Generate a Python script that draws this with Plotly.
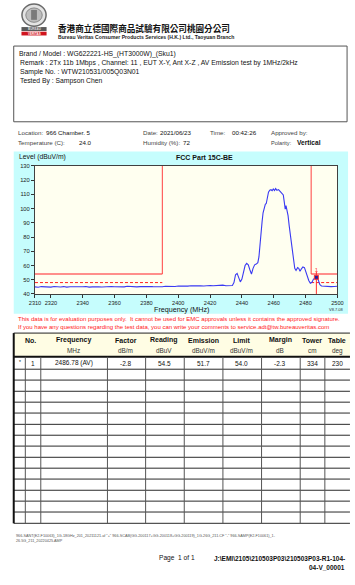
import plotly.graph_objects as go

W, H = 355, 585
FONT = "Liberation Sans, Arial, sans-serif"
CJK = "Noto Sans CJK TC, Noto Sans CJK SC, sans-serif"

# ---------------- header / test info ----------------
company_zh = "香港商立德國際商品試驗有限公司桃園分公司"
company_en = "Bureau Veritas Consumer Products Services (H.K.) Ltd., Taoyuan Branch"
info_lines = [
    "Brand / Model : WG622221-HS_(HT3000W)_(Sku1)",
    "Remark : 2Tx 11b 1Mbps , Channel: 11 , EUT X-Y, Ant X-Z , AV Emission test by 1MHz/2kHz",
    "Sample No. : WTW210531/005Q03N01",
    "Tested By : Sampson Chen",
]
location = "966 Chamber. 5"
test_date = "2021/06/23"
test_time = "00:42:26"
temperature = "24.0"
humidity = "72"
polarity = "Vertical"

# ---------------- spectrum sweep (MHz, dBuV/m) ----------------
spec_freq = [
    2310, 2312, 2314, 2316, 2318, 2320, 2322, 2324, 2326, 2328,
    2330, 2332, 2334, 2336, 2338, 2340, 2342, 2344, 2346, 2348,
    2350, 2352, 2354, 2356, 2358, 2360, 2362, 2364, 2366, 2368,
    2370, 2372, 2374, 2376, 2378, 2380, 2382, 2384, 2386, 2388,
    2390, 2392, 2394, 2396, 2398, 2400, 2402, 2404, 2406, 2408,
    2410, 2412, 2414, 2416, 2418, 2420, 2422, 2424, 2426, 2428,
    2430, 2432,
    2434, 2435, 2436, 2437, 2438, 2439, 2440, 2441, 2442, 2443,
    2444, 2445, 2446, 2447, 2448, 2449, 2450, 2450.7, 2451.3, 2452,
    2452.7, 2453.3, 2454, 2454.7, 2455.3, 2456, 2456.7, 2457.5, 2458.3, 2459,
    2459.7, 2460.5, 2461.2, 2462, 2463, 2464, 2465, 2466, 2466.7, 2467.2,
    2467.7, 2468.3, 2469, 2469.7, 2470.5, 2471.3, 2472, 2472.6, 2473.2, 2474,
    2475, 2475.7, 2476.5, 2477.3, 2478.3, 2479.3, 2480, 2481, 2482, 2483,
    2484, 2485, 2486, 2486.78, 2487.5, 2488.2, 2489, 2490, 2492, 2494,
    2496, 2498, 2500,
]
spec_level = [
    45.0, 44.7, 45.2, 44.9, 45.1, 44.8, 45.3, 45.0, 44.9, 45.2,
    44.8, 45.1, 45.0, 45.3, 44.9, 45.1, 45.2, 44.8, 45.0, 45.3,
    45.1, 44.9, 45.2, 45.0, 45.3, 45.1, 44.9, 45.2, 45.0, 45.4,
    45.1, 45.3, 45.0, 45.2, 45.4, 45.1, 45.3, 45.2, 45.0, 45.3,
    45.1, 45.4, 45.2, 45.5, 45.3, 45.6, 45.4, 45.7, 45.5, 45.8,
    45.6, 45.9, 45.7, 45.6, 45.9, 46.0, 45.8, 46.1, 45.9, 46.2,
    45.8, 46.0,
    46.0, 48.0, 53.5, 54.5, 52.0, 48.5, 50.5, 56.0, 60.0, 61.5,
    60.5, 57.0, 54.0, 58.0, 60.5, 61.0, 62.0, 66.0, 75.0, 84.0,
    91.0, 97.0, 101.0, 103.0, 103.5, 108.0, 111.5, 112.8, 113.2, 112.5,
    113.8, 112.6, 114.0, 112.8, 113.3, 112.0, 111.0, 109.5, 104.0, 99.5,
    102.0, 99.0, 95.0, 88.0, 81.0, 75.0, 70.0, 62.0, 58.0, 56.5,
    58.5, 58.0, 56.0, 57.5, 59.0, 58.5, 56.0, 52.0, 49.5, 47.5,
    48.2, 50.5, 51.2, 51.7, 51.3, 49.0, 46.5, 45.6, 45.3, 45.4,
    45.2, 45.3, 45.4,
]

# ---------------- limits ----------------
band_low_edge = 2390.0
band_high_edge = 2483.5
freq_start, freq_stop = 2310, 2500
av_limit = 54.0
limit_margin = 6.0
level_min, level_max = 40, 130

x_ticks = [2310, 2320, 2340, 2360, 2380, 2400, 2420, 2440, 2460, 2480, 2500]
y_ticks = [40, 50, 60, 70, 80, 90, 100, 110, 120, 130]

# ---------------- result table ----------------
col_titles = ["No.", "Frequency", "Factor", "Reading", "Emission", "Limit", "Margin", "Tower", "Table"]
col_units = ["", "MHz", "dB/m", "dBuV", "dBuV/m", "dBuV/m", "dB", "cm", "deg"]
row_no = ["1"]
row_freq = [2486.78]
row_det = ["AV"]
row_factor = [-2.8]
row_reading = [54.5]
row_emission = [51.7]
row_limit = [54.0]
row_margin = [-2.3]
row_tower = [334]
row_table = [230]

disclaimer = [
    "This data is for evaluation purposes only.  It cannot be used for EMC approvals unless it contains the approved signature.",
    "If you have any questions regarding the test data, you can write your comments to service.adt@tw.bureauveritas.com",
]
footer_files = [
    '966-SANT(E2-F10063)_1G-18GHz_201_20211121.af "+" 966-SCAB(GG-200117+GG-200118+GG-200119)_1G-26G_211.CF "-" 966-SAMP(E2-F10061)_1-',
    "26.5G_211_20220425.AMP",
]
page_text = "Page  1 of 1"
file_path = ["J:\\EMI\\2105\\210503P03\\210503P03-R1-104-", "04-V_00001"]

# plot-area placement on the page (pixels)
PLOT_L, PLOT_R, PLOT_T, PLOT_B = 30, 343, 164.5, 294


def X(px):
    return px / W


def Y(py):
    return 1 - py / H


shapes = []
annotations = []


def rect(x0, y0, x1, y1, fill=None, line=None, lw=1, layer="below"):
    shapes.append(dict(type="rect", xref="paper", yref="paper",
                       x0=X(x0), x1=X(x1), y0=Y(y0), y1=Y(y1),
                       fillcolor=fill if fill else "rgba(0,0,0,0)",
                       line=dict(color=line if line else "rgba(0,0,0,0)", width=lw if line else 0),
                       layer=layer))


def hline(x0, x1, y, color="#333", lw=1):
    shapes.append(dict(type="line", xref="paper", yref="paper",
                       x0=X(x0), x1=X(x1), y0=Y(y), y1=Y(y),
                       line=dict(color=color, width=lw), layer="above"))


def vline(x, y0, y1, color="#333", lw=1):
    shapes.append(dict(type="line", xref="paper", yref="paper",
                       x0=X(x), x1=X(x), y0=Y(y0), y1=Y(y1),
                       line=dict(color=color, width=lw), layer="above"))


def text(x, y, s, size=6.3, color="#111", anchor="left", bold=False, family=FONT):
    if bold:
        s = "<b>" + s + "</b>"
    annotations.append(dict(xref="paper", yref="paper", x=X(x), y=Y(y), text=s,
                            showarrow=False, xanchor=anchor, yanchor="middle",
                            font=dict(size=size, color=color, family=family)))


# ---- logo ----
shapes.append(dict(type="circle", xref="paper", yref="paper",
                   x0=X(16.5), x1=X(41.5), y0=Y(23.5), y1=Y(1),
                   fillcolor="#e4e4e4", line=dict(color="#6a6a6a", width=1.5), layer="below"))
shapes.append(dict(type="circle", xref="paper", yref="paper",
                   x0=X(20.5), x1=X(37.5), y0=Y(19.5), y1=Y(5),
                   fillcolor="#bdbdbd", line=dict(color="#8a8a8a", width=1), layer="below"))
shapes.append(dict(type="rect", xref="paper", yref="paper",
                   x0=X(26), x1=X(32), y0=Y(17), y1=Y(7),
                   fillcolor="#7a7a7a", line=dict(width=0), layer="below"))
rect(16, 24.3, 42, 28.3, fill="#5a5a5a")
rect(16, 29, 42, 32.8, fill="#d0141e")
text(29, 26.4, "BUREAU", size=3, color="#dddddd", anchor="center", bold=True)
text(29, 31, "VERITAS", size=3, color="#ffffff", anchor="center", bold=True)

text(52, 25.5, company_zh, size=8.6, color="#111", bold=True, family=CJK)
text(52, 34.5, company_en, size=5.1, color="#222", bold=True)

# ---- info box ----
rect(8, 43.5, 353, 120, line="#555", lw=1)
for i, s in enumerate(info_lines):
    text(11 if i == 0 else 12, 52 + 9 * i, s, size=6.8)

# ---- location / environment rows ----
text(10, 130.5, "Location:", size=6.2, color="#444")
text(39, 130.5, location, size=6.2)
text(10, 141, "Temperature (C):", size=6.2, color="#444")
text(73, 141, temperature, size=6.2)
text(140, 130.5, "Date:", size=6.2, color="#444")
text(157, 130.5, test_date, size=6.2)
text(209, 130.5, "Time:", size=6.2, color="#444")
text(232, 130.5, test_time, size=6.2)
text(140, 141, "Humidity (%):", size=6.2, color="#444")
text(181, 141, humidity, size=6.2)
text(272, 130.5, "Approved by:", size=6.2, color="#444")
text(272, 141, "Polarity:", size=5.6, color="#444")
text(299, 141, polarity, size=6.6, bold=True)

# ---- chart panel (cyan frame, then the ivory plotting area on top of it) ----
rect(8, 150, 354, 314, fill="#c6fdfd")
rect(PLOT_L, PLOT_T, PLOT_R, PLOT_B, fill="#fffff0")
text(11, 156, "Level (dBuV/m)", size=6.8)
text(205, 156, "FCC Part 15C-BE", size=7, anchor="center", bold=True)
text(182, 310, "Frequency (MHz)", size=7.2, anchor="center")
text(352, 310, "V8.7.08", size=4, anchor="right", color="#333")

# ---- disclaimer ----
text(10, 319.5, disclaimer[0], size=6.0, color="#ff2020")
text(10, 327, disclaimer[1], size=6.0, color="#ff2020")

# ---- result table ----
col_edges = [8, 20, 36, 105, 144.5, 184.5, 224.5, 264.5, 304.5, 330, 364]
col_centers = [25, 70, 124, 164, 204, 244, 284, 317, 343]
tab_top, head_bot = 333.5, 357.5
row_lines = [370, 381, 392.3, 403.3, 414.3, 425.7, 436.7, 447.7, 459, 470, 481, 492.3, 503.3, 514.3, 525.7]
rect(8, tab_top, 356, head_bot, fill="#fffde4")
hline(8, 356, tab_top, color="#222", lw=1)
hline(8, 356, head_bot, color="#111", lw=2)
for yl in row_lines:
    hline(8, 356, yl, color="#2a2a2a", lw=1)
vline(8, tab_top, row_lines[-1], color="#111", lw=2)
for xe in col_edges[1:-1]:
    vline(xe, head_bot, row_lines[-1], color="#555", lw=1)
for cx, t in zip(col_centers, col_titles):
    text(cx, 340.5, t, size=7, anchor="center", bold=True)
for cx, u in zip(col_centers[1:], col_units[1:]):
    text(cx, 351.5, u, size=6.4, anchor="center", color="#333")

for r in range(len(row_no)):
    ry = 364
    text(14, ry - 1, "*", size=5, anchor="center")
    text(28, ry, row_no[r], size=6.5, anchor="center")
    cells = [
        f"{row_freq[r]:.2f} ({row_det[r]})",
        f"{row_factor[r]:.1f}", f"{row_reading[r]:.1f}", f"{row_emission[r]:.1f}",
        f"{row_limit[r]:.1f}", f"{row_margin[r]:.1f}", f"{row_tower[r]}", f"{row_table[r]}",
    ]
    for cx, c in zip(col_centers[1:], cells):
        text(cx, ry, c, size=6.5, anchor="center")

# ---- footer ----
text(8, 538.5, footer_files[0], size=3.75, color="#555")
text(8, 543.5, footer_files[1], size=3.75, color="#555")
text(156, 561, page_text, size=6.6)
text(353, 561, file_path[0], size=6.5, anchor="right", bold=True)
text(353, 570, file_path[1], size=6.5, anchor="right", bold=True)

# ---------------- traces ----------------
fig = go.Figure()

# low-band (restricted) limit region
fig.add_trace(go.Scatter(x=[freq_start, band_low_edge], y=[av_limit, av_limit], mode="lines",
                         line=dict(color="#ff6a6a", width=1.6), hoverinfo="skip"))
fig.add_trace(go.Scatter(x=[freq_start, band_low_edge], y=[av_limit - limit_margin] * 2, mode="lines",
                         line=dict(color="#ff2020", width=1, dash="3px,2px"), hoverinfo="skip"))
fig.add_trace(go.Scatter(x=[band_low_edge, band_low_edge], y=[av_limit, level_max], mode="lines",
                         line=dict(color="#ff4040", width=1), hoverinfo="skip"))
# high-band (restricted) limit region
fig.add_trace(go.Scatter(x=[band_high_edge, freq_stop], y=[av_limit, av_limit], mode="lines",
                         line=dict(color="#ff6a6a", width=1.6), hoverinfo="skip"))
fig.add_trace(go.Scatter(x=[band_high_edge, freq_stop], y=[av_limit - limit_margin] * 2, mode="lines",
                         line=dict(color="#ff2020", width=1, dash="3px,2px"), hoverinfo="skip"))
fig.add_trace(go.Scatter(x=[band_high_edge, band_high_edge], y=[av_limit, level_max], mode="lines",
                         line=dict(color="#ff4040", width=1), hoverinfo="skip"))

# measured sweep
fig.add_trace(go.Scatter(x=spec_freq, y=spec_level, mode="lines",
                         line=dict(color="#3a3af2", width=1.1), hoverinfo="skip"))

# marker 1 at the reported emission
mk_f, mk_l = row_freq[0], row_emission[0]
fig.add_trace(go.Scatter(x=[mk_f, mk_f], y=[level_min, av_limit + 1.5], mode="lines",
                         line=dict(color="#ff3030", width=1), hoverinfo="skip"))
fig.add_trace(go.Scatter(x=[mk_f], y=[mk_l], mode="markers+text", text=["1"],
                         textposition="top center", textfont=dict(size=6, color="#ff4040", family=FONT),
                         marker=dict(symbol="square", size=4, color="#2020a0",
                                     line=dict(color="#ff3030", width=1)),
                         hoverinfo="skip"))

fig.update_layout(
    width=W, height=H,
    margin=dict(l=0, r=0, t=0, b=0),
    paper_bgcolor="white",
    plot_bgcolor="#fffff0",
    showlegend=False,
    shapes=shapes,
    annotations=annotations,
    xaxis=dict(domain=[X(PLOT_L), X(PLOT_R)], range=[freq_start, freq_stop],
               tickvals=x_ticks, ticktext=[str(v) for v in x_ticks], tickangle=0,
               ticks="outside", ticklen=3, tickcolor="#333", tickwidth=1,
               showline=True, linecolor="#404040", linewidth=1, mirror=True,
               showgrid=False, zeroline=False,
               tickfont=dict(size=5.6, family=FONT, color="#222")),
    yaxis=dict(domain=[Y(PLOT_B), Y(PLOT_T)], range=[level_min, level_max],
               tickvals=y_ticks, ticks="outside", ticklen=3, tickcolor="#333", tickwidth=1,
               showline=True, linecolor="#404040", linewidth=1, mirror=True,
               showgrid=False, zeroline=False,
               tickfont=dict(size=5.8, family=FONT, color="#222")),
)

fig.write_html("out.html")
